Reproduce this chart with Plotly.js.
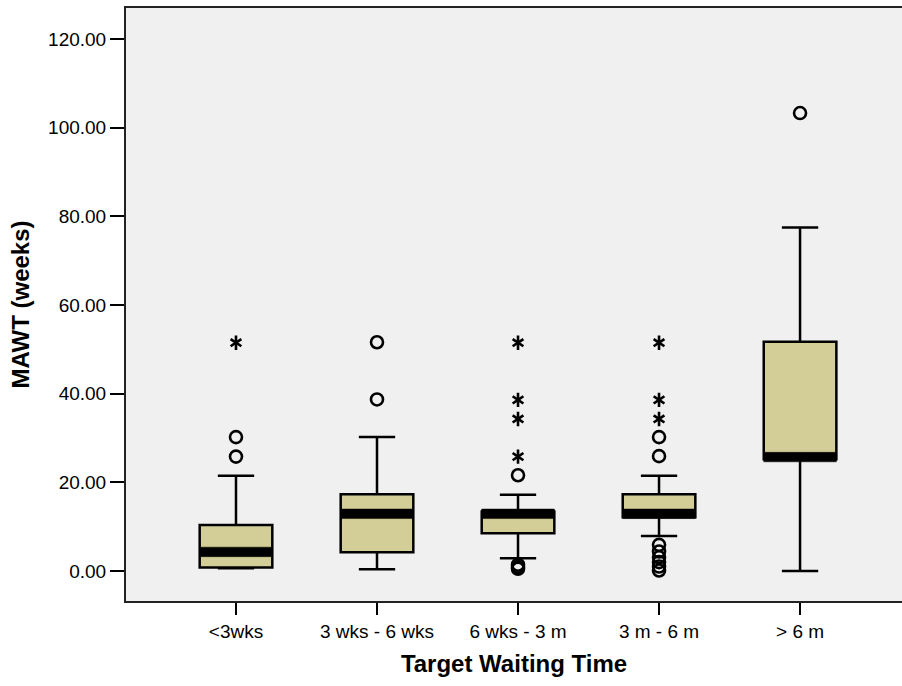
<!DOCTYPE html>
<html>
<head>
<meta charset="utf-8">
<script src="https://cdn.plot.ly/plotly-3.0.1.min.js"></script>
<style>
  html, body { margin: 0; padding: 0; background: #ffffff; }
  #chart { width: 902px; height: 686px; }
</style>
</head>
<body>
<div id="chart"></div>
<script>
// ---- data ----
const categories = ['<3wks', '3 wks - 6 wks', '6 wks - 3 m', '3 m - 6 m', '> 6 m'];
const lowerWhisker = [0.6, 0.4, 2.9, 7.9, 0.0];
const q1Values     = [0.8, 4.2, 8.5, 12.1, 25.2];
const medianValues = [4.3, 12.9, 12.9, 12.9, 25.7];
const q3Values     = [10.4, 17.3, 13.4, 17.3, 51.7];
const upperWhisker = [21.5, 30.2, 17.2, 21.5, 77.5];

// outliers (circles) per category
const circlesLt3wks  = [25.8, 30.2];
const circles3to6wks = [38.7, 51.6];
const circles6wto3m  = [21.6, 1.4, 0.9, 0.5];
const circles3to6m   = [25.9, 30.2, 5.9, 4.4, 3.1, 2.0, 1.0, 0.1];
const circlesGt6m    = [103.3];

// extreme values (asterisks) per category
const starsLt3wks  = [51.5];
const stars3to6wks = [];
const stars6wto3m  = [25.8, 34.3, 38.6, 51.5];
const stars3to6m   = [34.3, 38.6, 51.5];
const starsGt6m    = [];

// ---- build traces ----
function flatten(groups) {
  const xs = [], ys = [];
  groups.forEach((g, i) => g.forEach(v => { xs.push(categories[i]); ys.push(v); }));
  return { x: xs, y: ys };
}
const circles = flatten([circlesLt3wks, circles3to6wks, circles6wto3m, circles3to6m, circlesGt6m]);
const stars = flatten([starsLt3wks, stars3to6wks, stars6wto3m, stars3to6m, starsGt6m]);

const BOX_W = 0.515;
const BAND_HALF = 1.07; // half thickness of the heavy median bar (style)

const boxTrace = {
  type: 'box',
  x: categories,
  q1: q1Values,
  median: medianValues,
  q3: q3Values,
  lowerfence: lowerWhisker,
  upperfence: upperWhisker,
  boxpoints: false,
  width: BOX_W,
  whiskerwidth: 0.5,
  fillcolor: '#D3CE98',
  line: { color: '#000000', width: 2.5 },
  hoverinfo: 'skip'
};

const medianBand = {
  type: 'box',
  x: categories,
  q1: medianValues.map(m => m - BAND_HALF),
  median: medianValues,
  q3: medianValues.map(m => m + BAND_HALF),
  lowerfence: medianValues.map(m => m - BAND_HALF),
  upperfence: medianValues.map(m => m + BAND_HALF),
  boxpoints: false,
  width: BOX_W,
  whiskerwidth: 0,
  fillcolor: '#000000',
  line: { color: '#000000', width: 0.5 },
  hoverinfo: 'skip'
};

const circleTrace = {
  type: 'scatter', mode: 'markers',
  x: circles.x, y: circles.y,
  marker: { symbol: 'circle-open', size: 12, color: '#000000', line: { width: 2.6, color: '#000000' } },
  hoverinfo: 'skip'
};
const starUp = {
  type: 'scatter', mode: 'markers',
  x: stars.x, y: stars.y,
  marker: { symbol: 'y-up-open', size: 9, color: '#000000', line: { width: 2.6, color: '#000000' } },
  hoverinfo: 'skip'
};
const starDown = {
  type: 'scatter', mode: 'markers',
  x: stars.x, y: stars.y,
  marker: { symbol: 'y-down-open', size: 9, color: '#000000', line: { width: 2.6, color: '#000000' } },
  hoverinfo: 'skip'
};

const font = 'Liberation Sans, Arial, Helvetica, sans-serif';

const layout = {
  width: 902, height: 686,
  margin: { l: 126, r: 0, t: 8, b: 85, pad: 0 },
  paper_bgcolor: '#ffffff',
  plot_bgcolor: '#F0F0F0',
  showlegend: false,
  hovermode: false,
  boxmode: 'overlay',
  xaxis: {
    type: 'category',
    categoryorder: 'array',
    categoryarray: categories,
    range: [-0.78, 4.723],
    showgrid: false, zeroline: false,
    showline: true, mirror: true, linecolor: '#222222', linewidth: 2,
    ticks: 'outside', ticklen: 12, tickwidth: 2, tickcolor: '#000000',
    tickfont: { family: font, size: 19, color: '#000000' },
    automargin: false,
    title: { text: 'Target Waiting Time', font: { family: font, size: 24, color: '#000000', weight: 'bold' }, standoff: 14 }
  },
  yaxis: {
    range: [-6.77, 127.0],
    dtick: 20, tick0: 0,
    tickformat: '.2f',
    showgrid: false, zeroline: false,
    showline: true, linecolor: '#222222', linewidth: 2,
    ticks: 'outside', ticklen: 14, tickwidth: 2, tickcolor: '#000000',
    tickfont: { family: font, size: 19, color: '#000000' },
    automargin: false,
    title: { text: 'MAWT (weeks)', font: { family: font, size: 24, color: '#000000', weight: 'bold' }, standoff: 12 }
  }
};

Plotly.newPlot('chart', [boxTrace, medianBand, circleTrace, starUp, starDown], layout, { displayModeBar: false, staticPlot: true });
</script>
</body>
</html>
